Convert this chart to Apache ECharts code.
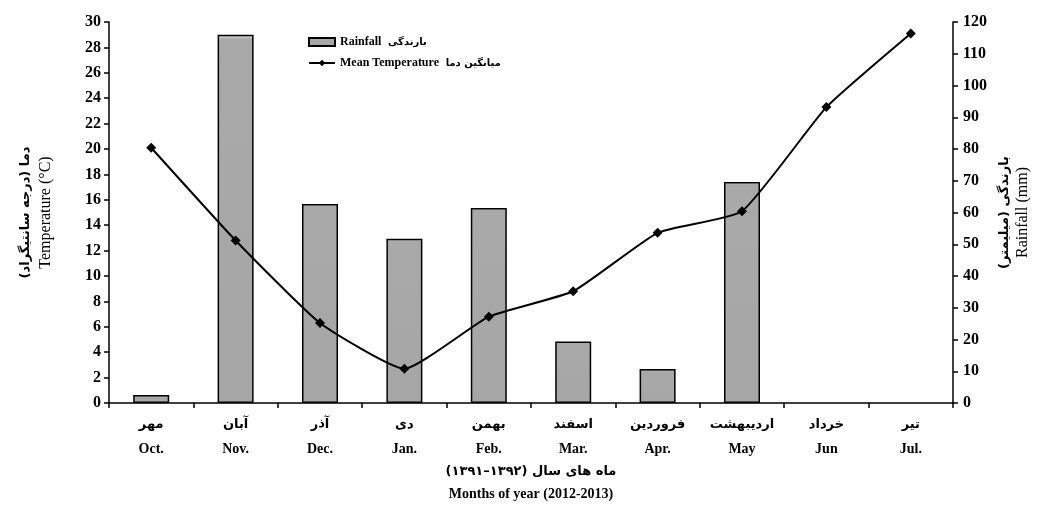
<!DOCTYPE html>
<html>
<head>
<meta charset="utf-8">
<script src="https://cdn.jsdelivr.net/npm/echarts@6/dist/echarts.min.js"></script>
<style>
  html, body { margin: 0; padding: 0; background: #fff; }
  #chart { width: 1047px; height: 506px; }
</style>
</head>
<body>
<div id="chart"></div>
<script>
// 月份（波斯文 + 英文）
var monthsFa = ['مهر', 'آبان', 'آذر', 'دی', 'بهمن', 'اسفند', 'فروردین', 'اردیبهشت', 'خرداد', 'تیر'];
var monthsEn = ['Oct.', 'Nov.', 'Dec.', 'Jan.', 'Feb.', 'Mar.', 'Apr.', 'May', 'Jun', 'Jul.'];
// 降雨量 mm（右轴）
var rainfall = [2.5, 116, 62.7, 51.7, 61.4, 19.4, 10.7, 69.6, 0, 0];
// 平均气温 °C（左轴）
var meanTemp = [20.1, 12.8, 6.3, 2.7, 6.8, 8.8, 13.4, 15.1, 23.3, 29.1];

var serif = '"Liberation Serif", "Times New Roman", serif';
var fa = '"DejaVu Sans", sans-serif';
// 波斯文标题：分段写，按画面上从左到右的顺序
var xNameFa = '{fa|(}{fa|۱۳۹۱}{fa|–}{fa|۱۳۹۲}{fa|) }{fa|ماه های سال}';
var yNameFa = '{fa|(}{fa|درجه سانتیگراد}{fa|) }{fa|دما}';
var y2NameFa = '{fa|(}{fa|میلیمتر}{fa|) }{fa|بارندگی}';

var categories = monthsEn.map(function (m, i) { return monthsFa[i] + '\n' + m; });

var myChart = echarts.init(document.getElementById('chart'));
var option = {
  backgroundColor: '#fff',
  animation: false,
  grid: { left: 109, right: 94, top: 22, bottom: 101 },
  legend: {
    orient: 'vertical',
    left: 303,
    top: 31,
    itemGap: 9,
    itemWidth: 26,
    itemHeight: 8,
    data: [
      { name: 'Rainfall', icon: 'rect' },
      { name: 'Mean Temperature' }
    ],
    formatter: function (name) {
      return name === 'Rainfall'
        ? '{en|Rainfall}  {fa|بارندگی}'
        : '{en|Mean Temperature}  {fa|میانگین دما}';
    },
    textStyle: {
      rich: {
        en: { fontFamily: serif, fontWeight: 'bold', fontSize: 12, color: '#000' },
        fa: { fontFamily: fa, fontWeight: 'bold', fontSize: 10, color: '#000' }
      }
    }
  },
  xAxis: {
    type: 'category',
    data: categories,
    axisLine: { lineStyle: { color: '#000', width: 1.5 } },
    axisTick: { show: true, length: 5, lineStyle: { color: '#000', width: 1.5 } },
    axisLabel: {
      interval: 0,
      margin: 10,
      formatter: function (v) {
        var p = v.split('\n');
        return '{fa|' + p[0] + '}\n{en|' + p[1] + '}';
      },
      rich: {
        fa: { fontFamily: fa, fontWeight: 'bold', fontSize: 13, color: '#000', lineHeight: 24 },
        en: { fontFamily: serif, fontWeight: 'bold', fontSize: 14, color: '#000', lineHeight: 24 }
      }
    },
    name: xNameFa + '\n{en|Months of year (2012-2013)}',
    nameLocation: 'middle',
    nameGap: 58,
    nameTextStyle: {
      rich: {
        fa: { fontFamily: fa, fontWeight: 'bold', fontSize: 13, color: '#000', lineHeight: 22 },
        en: { fontFamily: serif, fontWeight: 'bold', fontSize: 14, color: '#000', lineHeight: 22 }
      }
    }
  },
  yAxis: [
    {
      type: 'value',
      min: 0, max: 30, interval: 2,
      position: 'left',
      axisLine: { show: true, lineStyle: { color: '#000', width: 1.5 } },
      axisTick: { show: true, length: 5, lineStyle: { color: '#000', width: 1.5 } },
      splitLine: { show: false },
      axisLabel: { margin: 8, fontFamily: serif, fontWeight: 'bold', fontSize: 16, color: '#000' },
      name: yNameFa + '\n{en|Temperature (°C)}',
      nameLocation: 'middle',
      nameRotate: 90,
      nameGap: 53,
      nameTextStyle: {
        rich: {
          fa: { fontFamily: fa, fontWeight: 'bold', fontSize: 13, color: '#000', lineHeight: 20 },
          en: { fontFamily: serif, fontSize: 16, color: '#000', lineHeight: 20 }
        }
      }
    },
    {
      type: 'value',
      min: 0, max: 120, interval: 10,
      position: 'right',
      axisLine: { show: true, lineStyle: { color: '#000', width: 1.5 } },
      axisTick: { show: true, length: 5, lineStyle: { color: '#000', width: 1.5 } },
      splitLine: { show: false },
      axisLabel: { margin: 10, fontFamily: serif, fontWeight: 'bold', fontSize: 16, color: '#000' },
      name: y2NameFa + '\n{en|Rainfall (mm)}',
      nameLocation: 'middle',
      nameRotate: 90,
      nameGap: 43,
      nameTextStyle: {
        rich: {
          fa: { fontFamily: fa, fontWeight: 'bold', fontSize: 13, color: '#000', lineHeight: 18 },
          en: { fontFamily: serif, fontSize: 16, color: '#000', lineHeight: 18 }
        }
      }
    }
  ],
  series: [
    {
      name: 'Rainfall',
      type: 'bar',
      yAxisIndex: 1,
      barWidth: 36,
      // 值为0的月份不画边框
      data: rainfall.map(function (v) {
        return v === 0 ? { value: v, itemStyle: { borderWidth: 0 } } : v;
      }),
      itemStyle: {
        color: new echarts.graphic.LinearGradient(0, 0, 0, 1, [
          { offset: 0, color: '#e6e6e6' },
          { offset: 0.012, color: '#a9a9a9' },
          { offset: 1, color: '#a6a6a6' }
        ], false),
        borderColor: '#000',
        borderWidth: 1.5
      }
    },
    {
      name: 'Mean Temperature',
      type: 'line',
      yAxisIndex: 0,
      data: meanTemp,
      smooth: 0.15,
      symbol: 'diamond',
      symbolSize: 10,
      lineStyle: { color: '#000', width: 2 },
      itemStyle: { color: '#000' }
    }
  ]
};
myChart.setOption(option);
</script>
</body>
</html>
